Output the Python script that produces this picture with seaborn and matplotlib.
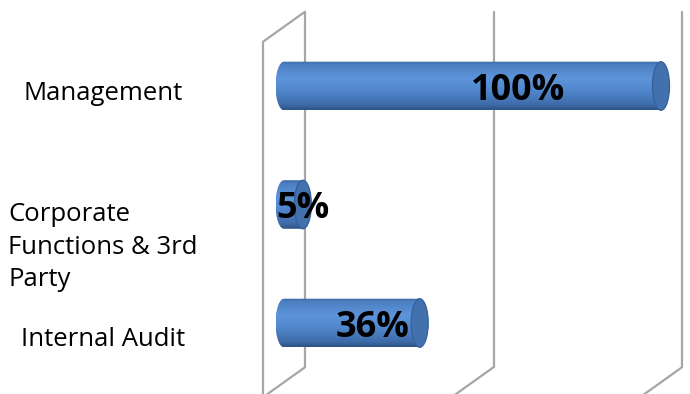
import numpy as np
import matplotlib
matplotlib.use("Agg")
import matplotlib.pyplot as plt
import seaborn as sns
import pandas as pd
from matplotlib.patches import Ellipse
from matplotlib.path import Path
from matplotlib.colors import LinearSegmentedColormap
from matplotlib import transforms

# Data
categories = ["Management", "Corporate\nFunctions & 3rd\nParty", "Internal Audit"]
shares = [100, 5, 36]
value_labels = ["100%", "5%", "36%"]
gridline_values = [0, 50, 100]

sns.set_theme(style="white")
plt.rcParams["font.family"] = ["Open Sans", "DejaVu Sans"]

W, H = 690, 394
fig = plt.figure(figsize=(W / 100, H / 100), dpi=100)
fig.patch.set_facecolor("white")
ax = fig.add_axes([284 / W, 11.75 / H, 377 / W, 355.5 / H])

df = pd.DataFrame({"category": categories, "share": shares})
sns.barplot(data=df, x="share", y="category", orient="h", ax=ax,
            width=0.41, color="#4F81BD")
ax.set_xlim(0, 100)
ax.set_ylim(2.5, -0.5)
ax.axis("off")

# Pseudo-3D depth of the plot box (pixels -> data / axes units)
ax_w_px = ax.get_position().width * W
ax_h_px = ax.get_position().height * H
x_per_px = 100 / ax_w_px
depth_x = 21 * x_per_px
depth_y = 15 / ax_h_px

grid_tr = transforms.blended_transform_factory(ax.transData, ax.transAxes)
grid_kw = dict(color="#A6A6A6", lw=1.6, transform=grid_tr, clip_on=False,
               zorder=0, solid_capstyle="round")
for v in gridline_values:
    ax.plot([v + depth_x] * 2, [depth_y, 1 + depth_y], **grid_kw)
    ax.plot([v + depth_x, v - depth_x], [depth_y, -depth_y], **grid_kw)
# left side wall
ax.plot([-depth_x] * 2, [-depth_y, 1 - depth_y], **grid_kw)
ax.plot([-depth_x, depth_x], [1 - depth_y, 1 + depth_y], **grid_kw)

# Cylinder shading
cyl_cmap = LinearSegmentedColormap.from_list(
    "cyl",
    [(0.0, "#3A68A3"), (0.07, "#4C7FC2"), (0.35, "#5E94DA"),
     (0.6, "#5187CC"), (0.88, "#3F6DAB"), (1.0, "#2D5386")])
grad = np.linspace(0, 1, 256).reshape(-1, 1)
cap_w = 17 * x_per_px
a = cap_w / 2

for patch, label in zip(list(ax.patches), value_labels):
    x0, w = patch.get_x(), patch.get_width()
    y0, h = patch.get_y(), patch.get_height()
    patch.set_visible(False)
    cy = y0 + h / 2
    b = h / 2
    t = np.linspace(0, np.pi, 60)
    left_x = x0 - a * np.sin(t)
    left_y = cy + b * np.cos(t)
    verts = [(x0, y0), (x0 + w, y0), (x0 + w, y0 + h)] + list(zip(left_x, left_y)) + [(x0, y0)]
    body = Path(verts)
    im = ax.imshow(grad, cmap=cyl_cmap, aspect="auto", origin="upper",
                   extent=[x0 - a, x0 + w, y0 + h, y0], zorder=2,
                   interpolation="bilinear")
    im.set_clip_box(fig.bbox)
    im.set_clip_path(body, ax.transData)
    ax.add_patch(Ellipse((x0 + w, cy), cap_w, h, facecolor="#4371AE",
                         edgecolor="#34609A", lw=0.9, zorder=3, clip_on=False))
    ax.text(0.6 * w + 2, cy + 0.04, label, ha="center", va="center",
            fontsize=26, fontweight="bold", color="black", zorder=5)

ax.set_xlim(0, 100)
ax.set_ylim(2.5, -0.5)

# Category labels to the left of the plot box
label_dy = [0.06, 0.36, 0.14]
lab_tr = transforms.blended_transform_factory(fig.transFigure, ax.transData)
for i, (cat, dy) in enumerate(zip(categories, label_dy)):
    ax.text(103 / W, i + dy, cat, transform=lab_tr, ha="center", va="center",
            multialignment="left", fontsize=18.5, linespacing=1.38,
            color="black", clip_on=False)

fig.savefig("out.png", dpi=100, facecolor="white")
